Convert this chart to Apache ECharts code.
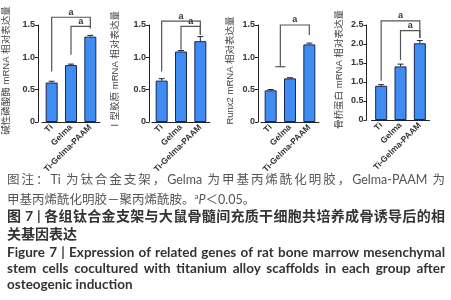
<!DOCTYPE html>
<html>
<head>
<meta charset="utf-8">
<script src="https://cdn.jsdelivr.net/npm/echarts@6/dist/echarts.min.js"></script>
<style>
  html, body { margin: 0; padding: 0; background: #fff; }
  #wrap { position: relative; width: 451px; height: 300px; overflow: hidden; }
  #main { position: absolute; left: 0; top: 0; width: 451px; height: 300px; }
  .cap { position: absolute; left: 7px; width: 438px; white-space: nowrap;
         font-family: "Lato", "Noto Sans CJK SC", sans-serif; }
  .just { text-align: justify; text-align-last: justify; }
  .note { font-size: 12.5px; color: #555; line-height: 16px; }
  .zh { font-size: 14px; color: #333; font-weight: bold; line-height: 18px; }
  .en { font-size: 13.5px; color: #333; font-weight: bold; line-height: 16px; }
</style>
</head>
<body>
<div id="wrap">
  <div id="main"></div>
  <div class="cap note just" style="top:172px">图注：Ti 为钛合金支架，Gelma 为甲基丙烯酰化明胶，Gelma-PAAM 为</div>
  <div class="cap note" style="top:188px">甲基丙烯酰化明胶－聚丙烯酰胺。<sup style="font-size:8px">a</sup><i>P</i>＜0.05。</div>
  <div class="cap zh just" style="top:207px">图 7 | 各组钛合金支架与大鼠骨髓间充质干细胞共培养成骨诱导后的相</div>
  <div class="cap zh" style="top:225px">关基因表达</div>
  <div class="cap en just" style="top:244px">Figure 7 | Expression of related genes of rat bone marrow mesenchymal</div>
  <div class="cap en just" style="top:260px">stem cells cocultured with titanium alloy scaffolds in each group after</div>
  <div class="cap en" style="top:276px">osteogenic induction</div>
</div>
<script>
// 分组
const categories = ['Ti', 'Gelma', 'Ti-Gelma-PAAM'];

// 四个基因的相对表达量（均值 / 误差）
const alpValues = [0.61, 0.88, 1.32];
const alpErrors = [0.02, 0.015, 0.02];
const col1Values = [0.64, 1.09, 1.25];
const col1Errors = [0.03, 0.015, 0.07];
const runx2Values = [0.49, 0.675, 1.20];
const runx2Errors = [0.012, 0.01, 0.02];
const opnValues = [0.90, 1.41, 2.02];
const opnErrors = [0.03, 0.06, 0.07];

const yNames = ['碱性磷酸酶 mRNA 相对表达量', 'Ⅰ型胶原 mRNA 相对表达量',
                'Runx2 mRNA 相对表达量', '骨桥蛋白 mRNA 相对表达量'];
const yMax = [1.5, 1.5, 1.5, 2.5];

// 显著性标记 [起点组, 终点组, 横线高度, 左腿底, 右腿底, 左腿横帽]
const alpBrackets = [[0, 2, 1.62, 0.78, 1.45, 0], [1, 2, 1.48, 1.04, 1.45, 0]];
const col1Brackets = [[0, 2, 1.56, 0.78, 1.35, 0], [1, 2, 1.48, 1.12, 1.35, 0]];
const runx2Brackets = [[0.5, 2, 1.5, 0.855, 1.345, 1]];
const opnBrackets = [[0, 2, 2.61, 1.03, 2.16, 0], [1, 2, 2.35, 1.58, 2.16, 0]];

const values = [alpValues, col1Values, runx2Values, opnValues];
const errors = [alpErrors, col1Errors, runx2Errors, opnErrors];
const brackets = [alpBrackets, col1Brackets, runx2Brackets, opnBrackets];

const gridPos = [
  { left: 42, top: 25, width: 58, height: 97 },
  { left: 152, top: 25, width: 58, height: 97 },
  { left: 261, top: 25, width: 58, height: 97 },
  { left: 371.5, top: 25, width: 58, height: 95 }
];
const yOffset = [4, 3, 3, 5];
const nameGaps = [27, 29, 23, 22];

const axisColor = '#222';
const font = '"Liberation Sans", "Noto Sans CJK SC", sans-serif';

function xAt(api, x) {
  const a = Math.floor(x), b = Math.ceil(x);
  const pa = api.coord([a, 0])[0];
  const pb = api.coord([b, 0])[0];
  return pa + (pb - pa) * (x - a);
}

const option = {
  animation: false,
  grid: gridPos,
  xAxis: gridPos.map((g, i) => ({
    type: 'category',
    gridIndex: i,
    data: categories,
    axisLine: { lineStyle: { color: axisColor, width: 1 } },
    axisTick: { show: false },
    axisLabel: {
      rotate: 45, margin: 4, fontSize: 8.5, color: '#333', fontWeight: 'bold',
      fontFamily: font, interval: 0
    }
  })),
  yAxis: gridPos.map((g, i) => ({
    type: 'value',
    gridIndex: i,
    min: 0, max: yMax[i], interval: 0.5,
    offset: yOffset[i],
    name: yNames[i],
    nameLocation: 'middle',
    nameGap: nameGaps[i],
    nameTextStyle: { fontSize: 9.5, color: '#444', fontFamily: font, padding: [0, 0, 0, 6] },
    splitLine: { show: false },
    axisLine: { show: true, lineStyle: { color: axisColor, width: 1 } },
    axisTick: { show: true, length: 3, lineStyle: { color: axisColor } },
    axisLabel: {
      fontSize: 9, color: '#333', fontWeight: 'bold', margin: 3, fontFamily: font,
      formatter: v => (v === 0 ? '0' : v.toFixed(1))
    }
  })),
  series: []
};

values.forEach((vals, i) => {
  option.series.push({
    type: 'bar',
    xAxisIndex: i, yAxisIndex: i,
    data: vals,
    barWidth: 12,
    itemStyle: { color: '#3f8cf2', borderColor: '#1c2650', borderWidth: 1 },
    z: 2
  });
  // 误差线
  option.series.push({
    type: 'custom',
    xAxisIndex: i, yAxisIndex: i,
    data: vals.map((v, j) => [j, v, errors[i][j]]),
    z: 3,
    renderItem: (params, api) => {
      const x = api.value(0), v = api.value(1), e = api.value(2);
      const top = api.coord([x, v + e]);
      const bot = api.coord([x, v]);
      const st = { stroke: '#222', lineWidth: 1 };
      return {
        type: 'group',
        children: [
          { type: 'line', shape: { x1: top[0], y1: bot[1], x2: top[0], y2: top[1] }, style: st },
          { type: 'line', shape: { x1: top[0] - 3, y1: top[1], x2: top[0] + 3, y2: top[1] }, style: st }
        ]
      };
    }
  });
  // 显著性括号
  const br = brackets[i];
  option.series.push({
    type: 'custom',
    xAxisIndex: i, yAxisIndex: i,
    data: br.map(b => [b[1], b[2]]),
    z: 4,
    renderItem: (params, api) => {
      const b = br[params.dataIndex];
      const x1 = xAt(api, b[0]), x2 = xAt(api, b[1]);
      const yT = api.coord([0, b[2]])[1];
      const yL = api.coord([0, b[3]])[1];
      const yR = api.coord([0, b[4]])[1];
      const st = { stroke: '#555', lineWidth: 1.2 };
      const children = [
        { type: 'polyline', shape: { points: [[x1, yL], [x1, yT], [x2, yT], [x2, yR]] }, style: { ...st, fill: null } },
        {
          type: 'text',
          style: {
            x: (x1 + x2) / 2, y: yT - 0.5, text: 'a', align: 'center', verticalAlign: 'bottom',
            fontSize: 9, fontWeight: 'bold', fill: '#333', fontFamily: font
          }
        }
      ];
      if (b[5]) {
        children.push({ type: 'line', shape: { x1: x1 - 5, y1: yL, x2: x1 + 5, y2: yL }, style: st });
      }
      return { type: 'group', children };
    }
  });
});

const myChart = echarts.init(document.getElementById('main'));
myChart.setOption(option);
</script>
</body>
</html>
